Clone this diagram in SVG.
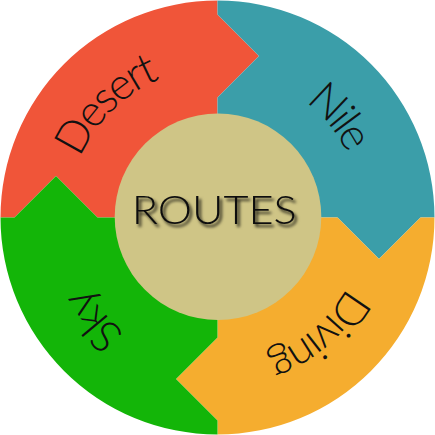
<svg xmlns="http://www.w3.org/2000/svg" width="435" height="435" viewBox="0 0 435 435">
  <style>
    .lbl { font-family: "Lato", "Noto Sans", "DejaVu Sans", sans-serif; font-weight: 300; font-size: 44px; letter-spacing: -2.6px; fill: #111; }
    .title { font-family: "Lato", "Noto Sans", "DejaVu Sans", sans-serif; font-weight: 300; font-size: 40px; fill: #0d0d0d; }
  </style>
  <defs>
    <path id="seg" d="M217.5,217.5 L97.5,217.5 L56,176 L14.5,217.5 L0.5,217.5 A217,217 0 0 1 217.5,0.5 L217.5,14.5 L259,56 L217.5,97.5 Z"/>
    <path id="arcDesert" d="M81.55,280.89 A150,150 0 0 1 280.89,81.55"/>
    <path id="arcNile" d="M167.91,81.24 A145,145 0 0 1 343.07,290"/>
    <path id="arcDiving" d="M354.74,164.82 A147,147 0 0 1 146.23,346.07"/>
    <path id="arcSky" d="M268.12,356.57 A148,148 0 0 1 89.33,143.5"/>
    <filter id="shadow" x="-10%" y="-30%" width="130%" height="170%">
      <feDropShadow dx="2.5" dy="3" stdDeviation="1.7" flood-color="#000" flood-opacity="0.85"/>
    </filter>
  </defs>
  <g id="desert">
    <use href="#seg" fill="#F05539"/>
    <text class="lbl"><textPath href="#arcDesert" startOffset="50%" text-anchor="middle">Desert</textPath></text>
  </g>
  <g id="nile">
    <use href="#seg" fill="#3B9EA9" transform="rotate(90 217.5 217.5)"/>
    <text class="lbl"><textPath href="#arcNile" startOffset="50%" text-anchor="middle">Nile</textPath></text>
  </g>
  <g id="diving">
    <use href="#seg" fill="#F5AD2F" transform="rotate(180 217.5 217.5)"/>
    <text class="lbl"><textPath href="#arcDiving" startOffset="50%" text-anchor="middle">Diving</textPath></text>
  </g>
  <g id="sky">
    <use href="#seg" fill="#13B508" transform="rotate(270 217.5 217.5)"/>
    <text class="lbl"><textPath href="#arcSky" startOffset="50%" text-anchor="middle">Sky</textPath></text>
  </g>
  <g id="connectors"></g>
  <g id="routes">
    <circle cx="218" cy="216.8" r="103.3" fill="#CFC586"/>
    <text class="title" x="214.2" y="223.8" text-anchor="middle" textLength="165" lengthAdjust="spacingAndGlyphs" filter="url(#shadow)">ROUTES</text>
  </g>
</svg>
